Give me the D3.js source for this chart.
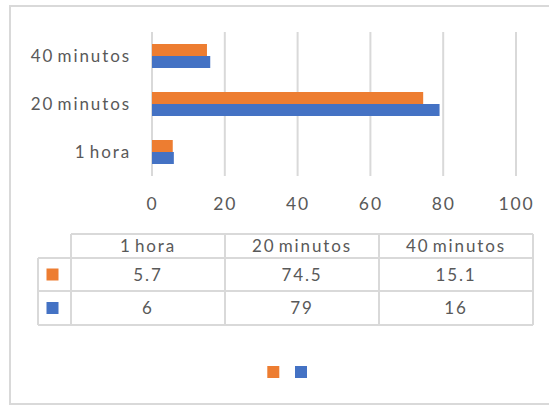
<!DOCTYPE html>
<html>
<head>
<meta charset="utf-8">
<script src="https://cdn.jsdelivr.net/npm/d3@7"></script>
<style>
  html, body { margin: 0; padding: 0; background: #fff; }
  svg { display: block; }
  text { font-family: Lato, "Open Sans", sans-serif; fill: #595959; font-size: 17px; letter-spacing: 1.9px; word-spacing: -3px; }
</style>
</head>
<body>
<script>
// ---- data ----
const categories = ["1 hora", "20 minutos", "40 minutos"];
const seriesNames = ["", ""];
const seriesOrange = [5.7, 74.5, 15.1];
const seriesBlue = [6, 79, 16];
const xTicks = [0, 20, 40, 60, 80, 100];
const colors = ["#ED7D31", "#4472C4"];

const series = [
  { key: "s0", name: seriesNames[0], values: seriesOrange, color: colors[0] },
  { key: "s1", name: seriesNames[1], values: seriesBlue, color: colors[1] }
];

const W = 549, H = 405;
const svg = d3.select("body").append("svg").attr("width", W).attr("height", H);

// outer chart border
svg.append("rect").attr("x", 10).attr("y", 6).attr("width", W + 10).attr("height", 398)
  .attr("fill", "#fff").attr("stroke", "#d9d9d9").attr("stroke-width", 2);

// ---- scales ----
const x = d3.scaleLinear().domain([0, 100]).range([152, 516]);
const y = d3.scaleBand().domain(categories.slice().reverse()).range([32, 176])
  .paddingInner(0.5).paddingOuter(0.25);
const ySub = d3.scaleBand().domain(series.map(s => s.key)).range([0, y.bandwidth()]);

// gridlines
svg.append("g").selectAll("line").data(xTicks).join("line")
  .attr("x1", d => x(d)).attr("x2", d => x(d))
  .attr("y1", 32).attr("y2", 176)
  .attr("stroke", "#d9d9d9").attr("stroke-width", 2);

// x axis labels
const xAxis = d3.axisBottom(x).tickValues(xTicks).tickSize(0).tickPadding(0);
const gx = svg.append("g").attr("transform", "translate(0,196)").call(xAxis);
gx.select(".domain").remove();
gx.selectAll("text").attr("font-size", null).attr("font-family", null).attr("fill", null)
  .attr("dy", "0.82em").style("font-size", "17.5px");

// y axis labels
const yAxis = d3.axisLeft(y).tickSize(0).tickPadding(21);
const gy = svg.append("g").attr("transform", `translate(${x(0)},0)`).call(yAxis);
gy.select(".domain").remove();
gy.selectAll("text").attr("font-size", null).attr("font-family", null).attr("fill", null)
  .attr("dy", "0.36em");

// bars
const groups = svg.append("g").selectAll("g").data(categories).join("g")
  .attr("transform", c => `translate(0,${y(c)})`);
groups.selectAll("rect").data((c, i) => series.map(s => ({ s, v: s.values[i] }))).join("rect")
  .attr("x", x(0))
  .attr("y", d => ySub(d.s.key))
  .attr("width", d => x(d.v) - x(0))
  .attr("height", ySub.bandwidth())
  .attr("fill", d => d.s.color);

// ---- data table ----
const colX = d3.scaleBand().domain(categories).range([71, 533]);
const legendColLeft = 38;
const rowTops = [234, 258, 291, 325];
const lineColor = "#d9d9d9";
const tg = svg.append("g");
// header top line
tg.append("line").attr("x1", 71).attr("x2", 533).attr("y1", rowTops[0]).attr("y2", rowTops[0]);
// row lines
[rowTops[1], rowTops[2], rowTops[3]].forEach(yy => {
  tg.append("line").attr("x1", legendColLeft).attr("x2", 533).attr("y1", yy).attr("y2", yy);
});
// verticals
tg.append("line").attr("x1", legendColLeft).attr("x2", legendColLeft).attr("y1", rowTops[1]).attr("y2", rowTops[3]);
categories.forEach(c => {
  tg.append("line").attr("x1", colX(c)).attr("x2", colX(c)).attr("y1", rowTops[0]).attr("y2", rowTops[3]);
});
tg.append("line").attr("x1", 533).attr("x2", 533).attr("y1", rowTops[0]).attr("y2", rowTops[3]);
tg.selectAll("line").attr("stroke", lineColor).attr("stroke-width", 2);

// header texts
tg.selectAll("text.hdr").data(categories).join("text").attr("class", "hdr")
  .attr("x", c => colX(c) + colX.bandwidth() / 2)
  .attr("y", (rowTops[0] + rowTops[1]) / 2)
  .attr("dy", "0.36em").attr("text-anchor", "middle")
  .text(c => c);

// data rows
series.forEach((s, r) => {
  const yc = (rowTops[r + 1] + rowTops[r + 2]) / 2;
  tg.append("rect").attr("x", 46.5).attr("y", yc - 6).attr("width", 12).attr("height", 12).attr("fill", s.color);
  tg.selectAll("text.r" + r).data(s.values).join("text").attr("class", "r" + r)
    .attr("x", (v, i) => colX(categories[i]) + colX.bandwidth() / 2)
    .attr("y", yc).attr("dy", "0.36em").attr("text-anchor", "middle")
    .text(v => v);
});

// bottom legend
const lg = svg.append("g");
series.forEach((s, i) => {
  lg.append("rect").attr("x", 267.3 + i * 27.7).attr("y", 366).attr("width", 12).attr("height", 12).attr("fill", s.color);
});
</script>
</body>
</html>
